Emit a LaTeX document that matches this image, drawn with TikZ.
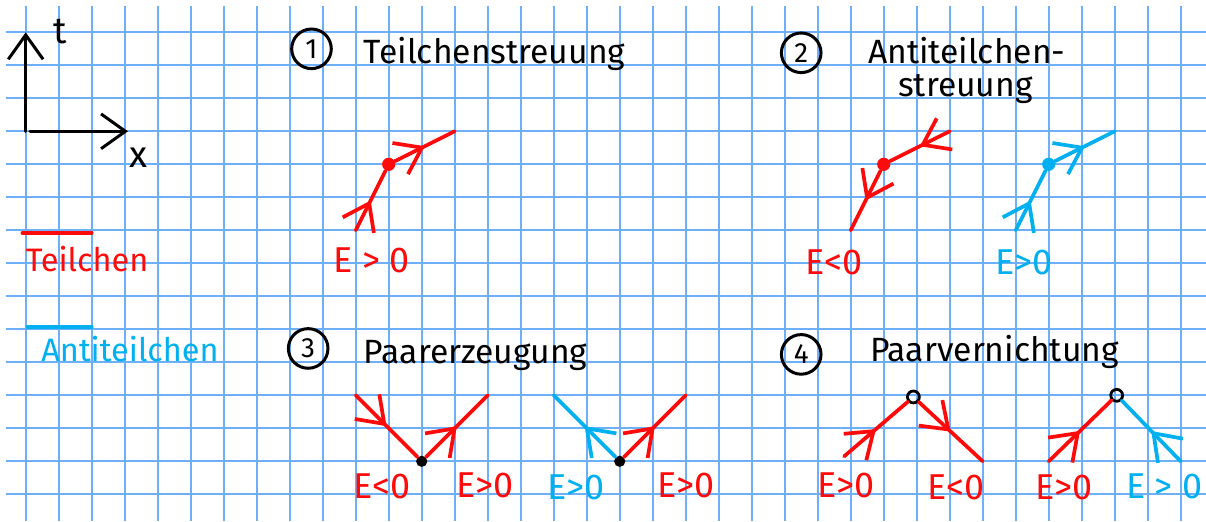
\documentclass[tikz,border=0pt]{standalone}
\usepackage{fontspec}
\setmainfont{Fira Sans}
\usetikzlibrary{arrows.meta,decorations.markings}
\definecolor{gridblue}{RGB}{110,175,250}
\definecolor{pred}{RGB}{255,10,10}
\definecolor{pcyan}{RGB}{0,176,240}
\tikzset{pen/.tip={Straight Barb[length=10.5pt,width=15pt]}}
\begin{document}
\begin{tikzpicture}[x=0.5cm,y=-0.5cm,
  gridline/.style={gridblue,line width=0.8pt},
  pline/.style={line width=1.6pt,line cap=round},
  midarrow/.style={postaction={decorate},decoration={markings,mark=at position 0.5 with {\arrow{pen}}}},
  vdot/.style={circle,fill=#1,inner sep=0pt,minimum size=2mm},
  hole/.style={circle,draw=black,line width=1.2pt,inner sep=0pt,minimum size=1.8mm},
  num/.style={circle,draw,line width=1.3pt,inner sep=0pt,minimum size=6mm,font=\fontsize{12}{12}\selectfont},
  title/.style={anchor=base west,font=\fontsize{14.5}{15}\selectfont},
  energy/.style={anchor=base,font=\fontsize{15.5}{15}\selectfont}]
\useasboundingbox[fill=white] (-0.779,-0.979) rectangle (35.767,14.809);
\foreach \i in {0,...,35} {
  \draw[gridline] (\i,-0.8) -- (\i,14.809);
}
\foreach \j in {0,...,14} {
  \draw[gridline] (-0.6,\j) -- (35.767,\j);
}
\coordinate (o) at (0,3);
\coordinate (tend) at (0,0);
\coordinate (xo) at (0.13,3);
\coordinate (xend) at (3.1,3);
\draw[pline,line width=1.3pt,-pen] (o) -- (tend);
\draw[pline,line width=1.3pt,-pen] (xo) -- (xend);
\node[anchor=base,font=\fontsize{16}{16}\selectfont] (tlab) at (1.06,0.33) {t};
\node[anchor=base,font=\fontsize{16}{16}\selectfont] (xlab) at (3.41,4.1) {x};
\draw[pline,pred] (-0.1,6.08) -- (2,6.08);
\node[anchor=base,pred,font=\fontsize{14}{14}\selectfont] (teil) at (1.86,7.26) {Teilchen};
\draw[pline,pcyan] (0.05,8.93) -- (2,8.93);
\node[anchor=base,pcyan,font=\fontsize{14}{14}\selectfont] (anti) at (3.16,9.98) {Antiteilchen};
\node[num] (n1) at (8.66,0.5) {1};
\node[title] (t1) at (10,0.93) {Teilchenstreuung};
\coordinate (l1) at (10,6);
\node[vdot=pred] (v1) at (11,4) {};
\coordinate (u1) at (13,3);
\draw[pline,pred,midarrow] (l1) -- (v1);
\draw[pline,pred,midarrow] (v1) -- (u1);
\node[energy,pred] (e1) at (10.48,7.28) {E > 0};
\node[num] (n2) at (23.5,0.62) {2};
\node[title] (t2a) at (25.28,0.94) {Antiteilchen-};
\node[title] (t2b) at (26.19,1.95) {streuung};
\coordinate (l2r) at (25,6);
\node[vdot=pred] (v2r) at (26,4) {};
\coordinate (u2r) at (28,3);
\draw[pline,pred,midarrow] (u2r) -- (v2r);
\draw[pline,pred,midarrow] (v2r) -- (l2r);
\node[energy,pred] (e2a) at (24.5,7.33) {E<0};
\coordinate (l2c) at (30,6);
\node[vdot=pcyan] (v2c) at (31,4) {};
\coordinate (u2c) at (33,3);
\draw[pline,pcyan,midarrow] (l2c) -- (v2c);
\draw[pline,pcyan,midarrow] (v2c) -- (u2c);
\node[energy,pcyan] (e2b) at (30.25,7.33) {E>0};
\node[num] (n3) at (8.56,9.58) {3};
\node[title] (t3) at (10,10.05) {Paarerzeugung};
\coordinate (a3l) at (10,11);
\node[vdot=black,minimum size=1.7mm] (v3a) at (12,13) {};
\coordinate (a3r) at (14,11);
\draw[pline,pred,midarrow] (a3l) -- (v3a);
\draw[pline,pred,midarrow] (v3a) -- (a3r);
\node[energy,pred] (e3a) at (10.8,14.12) {E<0};
\node[energy,pred] (e3b) at (13.92,14.1) {E>0};
\coordinate (b3l) at (16,11);
\node[vdot=black,minimum size=1.7mm] (v3b) at (18,13) {};
\coordinate (b3r) at (20,11);
\draw[pline,pcyan,midarrow] (v3b) -- (b3l);
\draw[pline,pred,midarrow] (v3b) -- (b3r);
\node[energy,pcyan] (e3c) at (16.68,14.15) {E>0};
\node[energy,pred] (e3d) at (20,14.1) {E>0};
\node[num] (n4) at (23.5,9.76) {4};
\node[title] (t4) at (25.34,9.98) {Paarvernichtung};
\coordinate (a4l) at (24.8,12.85);
\node[hole] (v4a) at (26.9,11.05) {};
\coordinate (a4r) at (29,13);
\draw[pline,pred,midarrow] (a4l) -- (v4a);
\draw[pline,pred,midarrow] (v4a) -- (a4r);
\node[energy,pred] (e4a) at (24.85,14.1) {E>0};
\node[energy,pred] (e4b) at (28.2,14.15) {E<0};
\coordinate (b4l) at (31,13);
\node[hole] (v4b) at (33.06,11) {};
\coordinate (b4r) at (35,13);
\draw[pline,pred,midarrow] (b4l) -- (v4b);
\draw[pline,pcyan,midarrow] (b4r) -- (v4b);
\node[energy,pred] (e4c) at (31.47,14.15) {E>0};
\node[energy,pcyan] (e4d) at (34.5,14.12) {E > 0};
\end{tikzpicture}
\end{document}
